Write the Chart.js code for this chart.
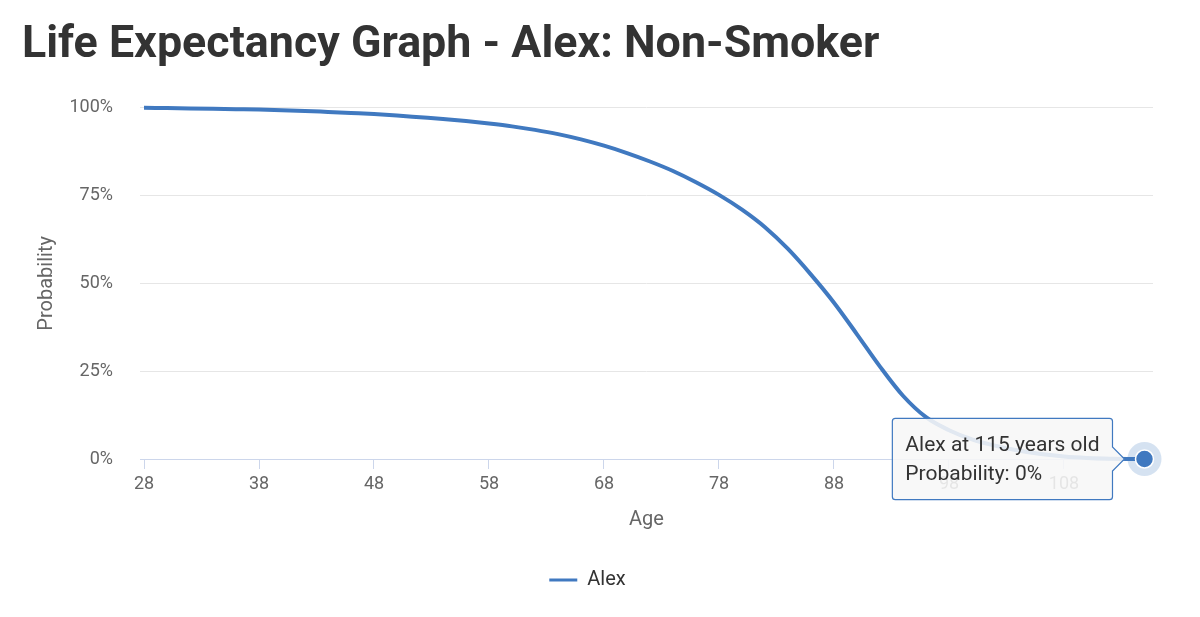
<!DOCTYPE html>
<html>
<head>
<meta charset="utf-8">
<script src="https://cdn.jsdelivr.net/npm/chart.js@4.4.0/dist/chart.umd.min.js"></script>
<style>
html,body{margin:0;padding:0;background:#fff;}
#c{display:block;}
</style>
</head>
<body>
<canvas id="c" width="1200" height="617"></canvas>
<script>
// ---- data ----
const chartTitle = 'Life Expectancy Graph - Alex: Non-Smoker';
const seriesName = 'Alex';
const xAxisTitle = 'Age';
const yAxisTitle = 'Probability';
const ages = [28,30,32,34,36,38,40,42,44,46,48,50,52,54,56,58,60,62,64,66,68,70,72,74,76,78,80,82,84,86,88,90,92,94,96,98,100,102,104,106,108,110,112,114,115];
const probability = [100,99.9,99.8,99.7,99.6,99.5,99.3,99.1,98.8,98.5,98.2,97.8,97.3,96.8,96.2,95.5,94.7,93.7,92.5,91.0,89.2,87.1,84.7,82.0,78.8,75.2,71.0,66.0,59.8,52.5,44.5,35.5,26.3,18.0,11.9,8.2,5.6,3.8,2.4,1.4,0.7,0.3,0.1,0.02,0];
const xTickValues = [28,38,48,58,68,78,88,98,108];
const yTickValues = [0,25,50,75,100];
const highlightIndex = ages.length - 1;

// ---- styling ----
const lineColor = '#4079c0';
Chart.defaults.font.family = 'Roboto';

const points = ages.map((a, i) => ({x: a, y: probability[i]}));

const chart = new Chart(document.getElementById('c'), {
  type: 'line',
  data: {
    datasets: [
      {
        label: seriesName,
        data: points,
        borderColor: lineColor,
        backgroundColor: lineColor,
        borderWidth: 4,
        pointRadius: 0,
        pointHoverRadius: 9,
        pointHoverBorderWidth: 1.5,
        pointHoverBorderColor: '#ffffff',
        pointHoverBackgroundColor: lineColor,
        cubicInterpolationMode: 'monotone',
        fill: false,
        order: 1,
        clip: false
      },
      {
        label: 'halo',
        data: [points[highlightIndex]],
        showLine: false,
        pointRadius: 17,
        pointHoverRadius: 17,
        backgroundColor: 'rgba(64,121,192,0.22)',
        borderWidth: 0,
        pointBorderWidth: 0,
        order: 2,
        clip: false
      }
    ]
  },
  options: {
    responsive: false,
    animation: false,
    events: [],
    layout: { padding: { left: 22, right: 47, top: 0, bottom: 17 } },
    scales: {
      x: {
        type: 'linear',
        min: 27.652,
        max: 115.74,
        afterBuildTicks: s => { s.ticks = xTickValues.map(v => ({value: v})); },
        afterFit: s => { s.height = 101; },
        ticks: { color: '#666', font: { size: 18 }, padding: 5, maxRotation: 0, autoSkip: false },
        grid: { drawOnChartArea: false, drawTicks: true, tickLength: 10, color: '#ccd6eb' },
        border: { color: '#ccd6eb', width: 1 },
        title: { display: true, text: xAxisTitle, color: '#666', font: { size: 20 }, padding: { top: 0, bottom: 28 } }
      },
      y: {
        min: 0,
        max: 100,
        afterBuildTicks: s => { s.ticks = yTickValues.map(v => ({value: v})); },
        afterFit: s => { s.width = 118; },
        ticks: { color: '#666', font: { size: 18 }, padding: 27, callback: v => v + '%' },
        grid: { color: '#e6e6e6', drawTicks: false },
        border: { display: false },
        title: { display: true, text: yAxisTitle, color: '#666', font: { size: 20 }, padding: { top: 13, bottom: 0 } }
      }
    },
    plugins: {
      title: {
        display: true,
        text: chartTitle,
        align: 'start',
        color: '#333',
        font: { size: 44.8, weight: 'bold' },
        padding: { top: 19, bottom: 35 }
      },
      legend: {
        position: 'bottom',
        labels: {
          color: '#333',
          font: { size: 20 },
          boxWidth: 28,
          boxHeight: 3,
          padding: 10,
          generateLabels: (ch) => Chart.defaults.plugins.legend.labels.generateLabels(ch)
            .filter(l => l.datasetIndex === 0)
            .map(l => Object.assign(l, { lineWidth: 0, fillStyle: lineColor, strokeStyle: lineColor }))
        }
      },
      tooltip: {
        enabled: true,
        xAlign: 'right',
        yAlign: 'center',
        backgroundColor: 'rgba(247,247,247,0.88)',
        borderColor: lineColor,
        borderWidth: 1.2,
        titleColor: '#333',
        bodyColor: '#333',
        titleFont: { size: 21, weight: 'normal' },
        bodyFont: { size: 21 },
        titleMarginBottom: 4,
        padding: { left: 13, right: 13, top: 15, bottom: 12 },
        caretSize: 12,
        caretPadding: 20,
        cornerRadius: 3,
        displayColors: false,
        callbacks: {
          title: items => `${seriesName} at ${items[0].parsed.x} years old`,
          label: item => `Probability: ${item.parsed.y}%`
        }
      }
    }
  }
});

const active = [{ datasetIndex: 0, index: highlightIndex }];
const meta = chart.getDatasetMeta(0).data[highlightIndex];
chart.setActiveElements(active);
chart.tooltip.setActiveElements(active, { x: meta.x, y: meta.y });
chart.update();
</script>
</body>
</html>
